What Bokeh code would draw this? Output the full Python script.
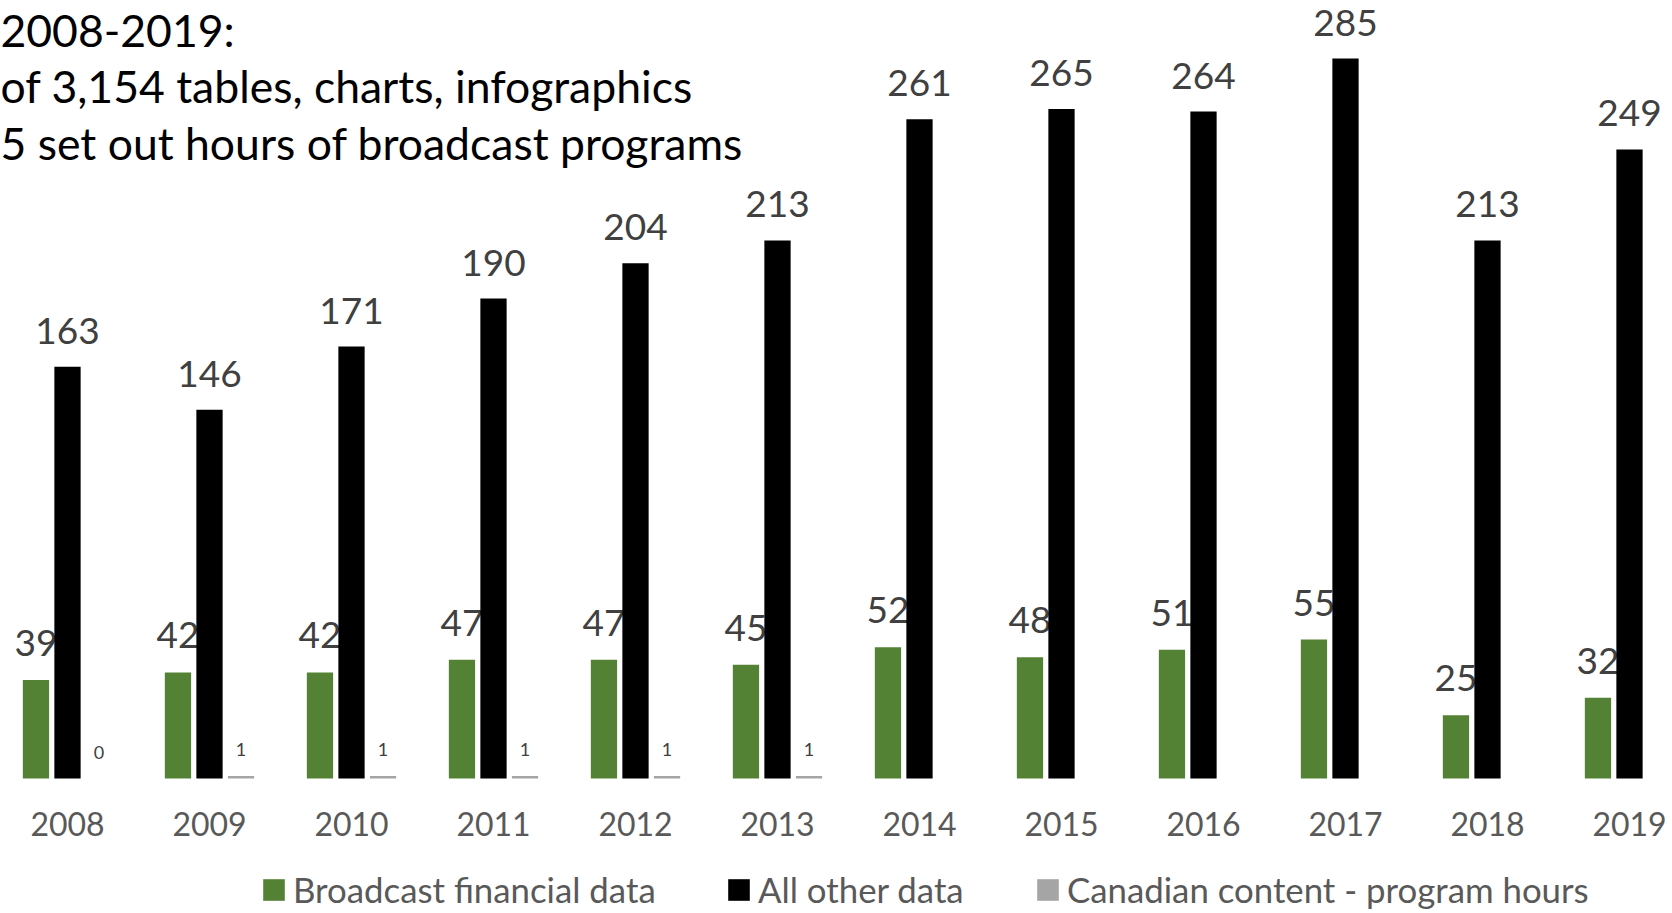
from bokeh.plotting import figure
from bokeh.models import (ColumnDataSource, Range1d, LabelSet, Label,
                          Legend, LegendItem)
from bokeh.core.properties import value
from bokeh.embed import file_html
from bokeh.resources import INLINE

# ---------------- data ----------------
years = ["2008", "2009", "2010", "2011", "2012", "2013",
         "2014", "2015", "2016", "2017", "2018", "2019"]
broadcast_financial = [39, 42, 42, 47, 47, 45, 52, 48, 51, 55, 25, 32]
all_other = [163, 146, 171, 190, 204, 213, 261, 265, 264, 285, 213, 249]
canadian_content = [0, 1, 1, 1, 1, 1, None, None, None, None, None, None]

series_names = ["Broadcast financial data", "All other data",
                "Canadian content - program hours"]
title_lines = ["2008-2019:",
               "of 3,154 tables, charts, infographics",
               "5 set out hours of broadcast programs"]

# ---------------- styling ----------------
FONT = "Lato"
GREEN, BLACK, GREY = "#548235", "#000000", "#A5A5A5"
BAR_W = 0.185
OFF = 0.222
PX_PER_UNIT = 720 / 285.0      # vertical scale
BASE = 778                      # baseline, px from top
FRAME_H = 910
FRAME_W = 1672
CAT_PX = 142.0
FIRST_PX = 67.0

idx = list(range(len(years)))
src = ColumnDataSource(dict(
    x=idx,
    xg=[i - OFF for i in idx],
    xc=[i + OFF for i in idx],
    zero=[0] * len(idx),
    yr=years,
    g=broadcast_financial,
    b=all_other,
    c=[float("nan") if v is None else v for v in canadian_content],
    gl=[str(v) for v in broadcast_financial],
    bl=[str(v) for v in all_other],
))
c_idx = [i for i, v in enumerate(canadian_content) if v is not None]
src_c = ColumnDataSource(dict(
    xc=[i + OFF for i in c_idx],
    c=[canadian_content[i] for i in c_idx],
    cl=[str(canadian_content[i]) for i in c_idx],
))

p = figure(frame_width=FRAME_W, frame_height=FRAME_H,
           x_range=Range1d(-FIRST_PX / CAT_PX, (FRAME_W - FIRST_PX) / CAT_PX),
           y_range=Range1d(-(FRAME_H - BASE) / PX_PER_UNIT, BASE / PX_PER_UNIT),
           output_backend="svg", toolbar_location=None,
           x_axis_location=None, y_axis_location=None,
           min_border_left=0, min_border_right=0, min_border_top=0,
           min_border_bottom=0)
p.outline_line_color = None
p.grid.visible = False
p.background_fill_color = "white"
p.border_fill_color = "white"

rg = p.vbar(x="xg", top="g", width=BAR_W, source=src, fill_color=GREEN, line_color=None)
rb = p.vbar(x="x", top="b", width=BAR_W, source=src, fill_color=BLACK, line_color=None)
rc = p.vbar(x="xc", top="c", width=BAR_W, source=src, fill_color=GREY, line_color=None)

lab_g = LabelSet(x="xg", y="g", text="gl", source=src, text_align="center",
                 text_baseline="alphabetic", y_offset=24,
                 text_font=value(FONT), text_font_size="37px", text_color="#404040",
                 level="underlay")
lab_b = LabelSet(x="x", y="b", text="bl", source=src, text_align="center",
                 text_baseline="alphabetic", y_offset=23,
                 text_font=value(FONT), text_font_size="37px", text_color="#404040")
lab_c = LabelSet(x="xc", y="c", text="cl", source=src_c, text_align="center",
                 text_baseline="alphabetic", y_offset=20,
                 text_font=value(FONT), text_font_size="18px", text_color="#404040")
# category (year) labels under the baseline
lab_x = LabelSet(x="x", y="zero", text="yr", source=src, text_align="center",
                 text_baseline="alphabetic", y_offset=-57,
                 text_font=value(FONT), text_font_size="32px", text_color="#595959")
for l in (lab_g, lab_b, lab_c, lab_x):
    p.add_layout(l)

shift = FRAME_H - BASE
for line, ypos in zip(title_lines, [749, 693, 636]):
    p.add_layout(Label(x=0, y=ypos + shift, x_units="screen", y_units="screen",
                       text=line, text_font=FONT, text_font_size="44.5px",
                       text_color="#000000", text_baseline="alphabetic",
                       text_align="left"))

GLYPH = 27   # legend glyph box (the square is drawn inset by 10%)
for name, r, xloc in zip(series_names, [rg, rb, rc], [260, 725, 1034]):
    leg = Legend(items=[LegendItem(label=name, renderers=[r])],
                 location=(xloc, 0), orientation="horizontal",
                 glyph_width=GLYPH, glyph_height=GLYPH, label_standoff=6,
                 label_text_font=FONT, label_text_font_size="34.8px",
                 label_text_color="#595959", padding=0, margin=0, spacing=0,
                 border_line_color=None, background_fill_alpha=0)
    p.add_layout(leg, "center")

open("out.html", "w").write(file_html(p, INLINE))
